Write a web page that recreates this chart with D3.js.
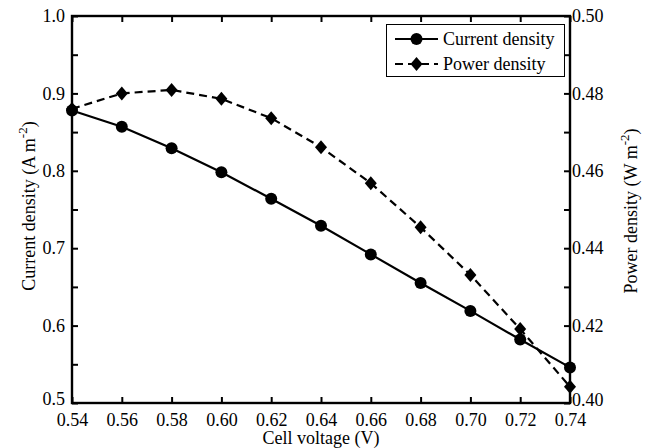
<!DOCTYPE html>
<html><head><meta charset="utf-8">
<script src="https://cdn.jsdelivr.net/npm/d3@7"></script>
<style>body{margin:0;background:#fff}svg{display:block}text{font-family:"Liberation Serif","Times New Roman",serif;fill:#000}</style>
</head><body>
<script>
const voltage = [0.54,0.56,0.58,0.60,0.62,0.64,0.66,0.68,0.70,0.72,0.74];
const currentDensity = [0.878,0.857,0.829,0.798,0.764,0.729,0.692,0.655,0.619,0.582,0.546];
const powerDensity = [0.4760,0.4800,0.4809,0.4786,0.4736,0.4661,0.4568,0.4454,0.4331,0.4191,0.4042];
const xTicks = [0.54,0.56,0.58,0.60,0.62,0.64,0.66,0.68,0.70,0.72,0.74];
const leftTicks = [0.5,0.6,0.7,0.8,0.9,1.0];
const leftMinor = [0.55,0.65,0.75,0.85,0.95];
const rightTicks = [0.40,0.42,0.44,0.46,0.48,0.50];
const rightMinor = [0.41,0.43,0.45,0.47,0.49];
const seriesNames = ["Current density","Power density"];

const W=646,H=448;
const m={l:72,r:76,t:16,b:45};
const svg=d3.select("body").append("svg").attr("width",W).attr("height",H);
const x=d3.scaleLinear().domain([0.54,0.74]).range([m.l,W-m.r]);
const yL=d3.scaleLinear().domain([0.5,1.0]).range([H-m.b,m.t]);
const yR=d3.scaleLinear().domain([0.40,0.50]).range([H-m.b,m.t]);
const fs=18, tl=6;

svg.append("rect").attr("x",m.l).attr("y",m.t).attr("width",x(0.74)-m.l).attr("height",yL(0.5)-m.t)
  .attr("fill","none").attr("stroke","#000").attr("stroke-width",2.4);

const xa=svg.append("g").attr("transform",`translate(0,${yL(0.5)})`)
  .call(d3.axisBottom(x).tickValues(xTicks).tickFormat(d3.format(".2f")).tickSize(-tl).tickPadding(10));
svg.append("g").attr("transform",`translate(0,${m.t})`)
  .call(d3.axisTop(x).tickValues(xTicks).tickFormat("").tickSize(-tl));
const la=svg.append("g").attr("transform",`translate(${m.l},0)`)
  .call(d3.axisLeft(yL).tickValues(leftTicks.concat(leftMinor)).tickFormat(d=>leftTicks.includes(d)?d3.format(".1f")(d):"").tickSize(-tl).tickPadding(7));
const ra=svg.append("g").attr("transform",`translate(${x(0.74)},0)`)
  .call(d3.axisRight(yR).tickValues(rightTicks.concat(rightMinor)).tickFormat(d=>rightTicks.includes(d)?d3.format(".2f")(d):"").tickSize(-tl).tickPadding(2));
svg.selectAll(".domain").remove();
svg.selectAll(".tick line").attr("stroke","#000").attr("stroke-width",2);
svg.selectAll(".tick text").attr("font-size",fs).attr("font-family","Liberation Serif").attr("fill","#000");
la.selectAll(".tick text").filter(d=>d===0.5).attr("dy","0.1em");
ra.selectAll(".tick text").filter(d=>d===0.40).attr("dy","0.15em");

const dash="8,5";
const lp=d3.line().x((d,i)=>x(voltage[i])).y(d=>yR(d));
const lc=d3.line().x((d,i)=>x(voltage[i])).y(d=>yL(d));
svg.append("path").attr("d",lp(powerDensity)).attr("fill","none").attr("stroke","#000").attr("stroke-width",2.2).attr("stroke-dasharray",dash);
svg.append("path").attr("d",lc(currentDensity)).attr("fill","none").attr("stroke","#000").attr("stroke-width",2.2);
const diamond=(cx,cy)=>`M${cx},${cy-7}L${cx+6},${cy}L${cx},${cy+7}L${cx-6},${cy}Z`;
svg.append("g").selectAll("path").data(powerDensity).join("path")
  .attr("d",(d,i)=>diamond(x(voltage[i]),yR(d))).attr("fill","#000");
svg.append("g").selectAll("circle").data(currentDensity).join("circle")
  .attr("cx",(d,i)=>x(voltage[i])).attr("cy",d=>yL(d)).attr("r",6).attr("fill","#000");

svg.append("text").attr("x",(m.l+x(0.74))/2).attr("y",444).attr("text-anchor","middle").attr("font-size",fs).text("Cell voltage (V)");
function ylabel(tx,ty,main){
  const t=svg.append("text").attr("transform",`translate(${tx},${ty}) rotate(-90)`).attr("text-anchor","middle").attr("font-size",fs);
  t.append("tspan").text(main);
  t.append("tspan").attr("dy",-8).attr("font-size",13).text("-2");
  t.append("tspan").attr("dy",8).text(")");
}
ylabel(35,206,"Current density (A m");
ylabel(637,211,"Power density (W m");

const lg=svg.append("g");
lg.append("rect").attr("x",386.5).attr("y",24.5).attr("width",178).attr("height",52).attr("fill","#fff").attr("stroke","#000").attr("stroke-width",1);
[0,1].forEach(i=>{
  const yy=39+i*25;
  lg.append("line").attr("x1",395).attr("x2",438).attr("y1",yy).attr("y2",yy).attr("stroke","#000").attr("stroke-width",2.2)
    .attr("stroke-dasharray",i?"8,5":null);
  if(i===0) lg.append("circle").attr("cx",416.5).attr("cy",yy).attr("r",6).attr("fill","#000");
  else lg.append("path").attr("d",diamond(416.5,yy)).attr("fill","#000");
  lg.append("text").attr("x",443).attr("y",yy).attr("dy","0.35em").attr("font-size",fs).text(seriesNames[i]);
});
</script>
</body></html>
